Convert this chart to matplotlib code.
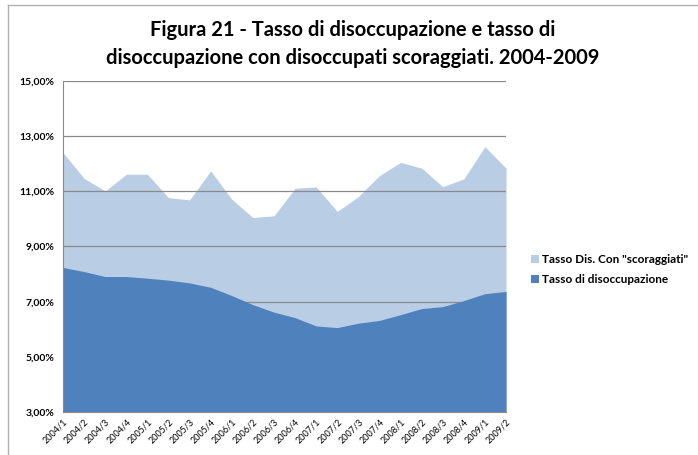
import matplotlib.pyplot as plt
from matplotlib.lines import Line2D
from matplotlib.ticker import FuncFormatter

# Quarter labels
trimestri = ['2004/1', '2004/2', '2004/3', '2004/4', '2005/1', '2005/2', '2005/3', '2005/4',
             '2006/1', '2006/2', '2006/3', '2006/4', '2007/1', '2007/2', '2007/3', '2007/4',
             '2008/1', '2008/2', '2008/3', '2008/4', '2009/1', '2009/2']

# Unemployment incl. discouraged workers (%)
tasso_scoraggiati = [12.40, 11.47, 11.01, 11.62, 11.62, 10.77, 10.69, 11.74,
                     10.71, 10.05, 10.11, 11.11, 11.16, 10.27, 10.81, 11.57,
                     12.05, 11.84, 11.17, 11.45, 12.62, 11.84]

# Unemployment rate (%)
tasso_disoccupazione = [8.24, 8.09, 7.91, 7.91, 7.85, 7.78, 7.68, 7.52,
                        7.22, 6.89, 6.62, 6.42, 6.12, 6.06, 6.22, 6.32,
                        6.53, 6.75, 6.82, 7.04, 7.29, 7.37]

plt.rcParams['font.family'] = ['Lato', 'DejaVu Sans']

fig = plt.figure(figsize=(6.98, 4.55), dpi=100)
ax = fig.add_axes([0.0903, 0.0945, 0.6347, 0.7275])

x = range(len(trimestri))
ax.fill_between(x, 3, tasso_scoraggiati, color='#B9CDE5', lw=0, zorder=1,
                label='Tasso Dis. Con "scoraggiati"')
ax.fill_between(x, 3, tasso_disoccupazione, color='#4F81BD', lw=0, zorder=3,
                label='Tasso di disoccupazione')

ax.set_xlim(0, len(trimestri) - 1)
ax.set_ylim(3, 15)
ax.set_yticks([3, 5, 7, 9, 11, 13, 15])
ax.yaxis.set_major_formatter(FuncFormatter(lambda v, p: ('%.2f%%' % v).replace('.', ',')))
ax.grid(axis='y', color='#8a8a8a', lw=0.9, zorder=2)
ax.set_axisbelow(False)
for s in ['top', 'right']:
    ax.spines[s].set_visible(False)
for s in ['left', 'bottom']:
    ax.spines[s].set_color('#8a8a8a')
    ax.spines[s].set_zorder(4)
ax.tick_params(length=0, pad=6)
ax.set_xticks(list(x))
ax.set_xticklabels(trimestri, rotation=45, ha='right', va='top', rotation_mode='anchor',
                   fontsize=6.5)
for lab in ax.get_yticklabels():
    lab.set_fontsize(7.5)
    lab.set_fontweight('bold')
ax.tick_params(axis='x', pad=4)

fig.suptitle('Figura 21 - Tasso di disoccupazione e tasso di\n'
             'disoccupazione con disoccupati scoraggiati. 2004-2009',
             x=0.505, y=0.955, fontsize=14.5, fontweight='bold', linespacing=1.45)

handles, labels = ax.get_legend_handles_labels()
fig.legend(handles, labels, loc='upper left', bbox_to_anchor=(0.745, 0.465),
           frameon=False, prop={'size': 8.5, 'weight': 'bold'},
           handlelength=0.7, handleheight=0.7, handletextpad=0.3, labelspacing=0.75)

# chart frame
fig.add_artist(Line2D([0.0115, 1.0], [0.989, 0.989], color='#b0b0b0', lw=1))
fig.add_artist(Line2D([0.0115, 0.0115], [0.0, 0.989], color='#b0b0b0', lw=1))

fig.savefig('out.png', dpi=100)
